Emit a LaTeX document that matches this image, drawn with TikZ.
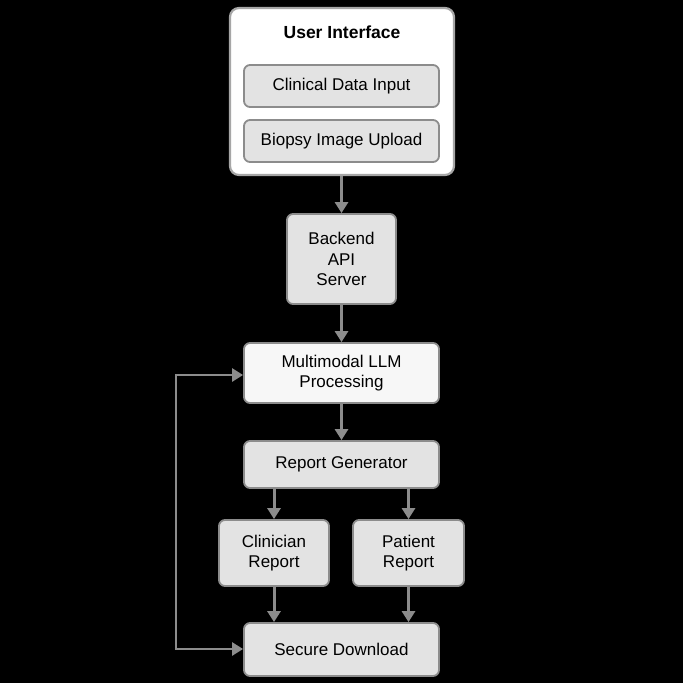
\documentclass[tikz,border=0pt]{standalone}
\usepackage{fontspec}
\setmainfont{Liberation Sans}
\usetikzlibrary{arrows.meta}
\begin{document}
\begin{tikzpicture}[x=1pt,y=-1pt,
  box/.style={draw=black!45,line width=1.8pt,rounded corners=6pt,fill=black!11,
    align=center,inner sep=0pt,font=\fontsize{17}{20.5}\selectfont},
  lightbox/.style={box,fill=black!3},
  outer/.style={draw=black!35,line width=2.2pt,rounded corners=9pt,fill=white,inner sep=0pt},
  tip/.tip={Triangle[length=11pt,width=13pt]},
  arr/.style={draw=black!45,line width=3pt,-tip}]
\fill[black] (0,0) rectangle (683,683);
\useasboundingbox (0,0) rectangle (683,683);
\node[outer,minimum width=224pt,minimum height=167pt] (ui) at (342,91.5) {};
\node[font=\bfseries\fontsize{17.5}{20}\selectfont] (uit) at (342,32) {User Interface};
\node[box,minimum width=195pt,minimum height=42pt] (cdi) at (341.5,86) {Clinical Data Input};
\node[box,minimum width=195pt,minimum height=42pt] (biu) at (341.5,141) {Biopsy Image Upload};
\node[box,minimum width=109pt,minimum height=90pt] (be) at (341.5,259) {Backend\\API\\Server};
\node[lightbox,minimum width=195pt,minimum height=60pt] (mm) at (341.5,373) {Multimodal LLM\\Processing};
\node[box,minimum width=195pt,minimum height=47pt] (rg) at (341.5,464.5) {Report Generator};
\node[box,minimum width=110pt,minimum height=66pt] (cr) at (274,553) {Clinician\\Report};
\node[box,minimum width=111pt,minimum height=66pt] (pr) at (408.5,553) {Patient\\Report};
\node[box,minimum width=195pt,minimum height=53pt] (sd) at (341.5,649.5) {Secure Download};
\coordinate (lt) at (176,375);
\coordinate (lb) at (176,649);
\draw[arr] (ui.south -| be.north) -- (be.north);
\draw[arr] (be.south) -- (mm.north);
\draw[arr] (mm.south) -- (rg.north);
\draw[arr] (rg.south -| cr.north) -- (cr.north);
\draw[arr] (rg.south -| pr.north) -- (pr.north);
\draw[arr] (cr.south) -- (sd.north -| cr.south);
\draw[arr] (pr.south) -- (sd.north -| pr.south);
\draw[arr,tip-tip,line width=2.6pt] (mm.west |- lt) -- (lt) -- (lb) -- (sd.west |- lb);
\end{tikzpicture}
\end{document}
